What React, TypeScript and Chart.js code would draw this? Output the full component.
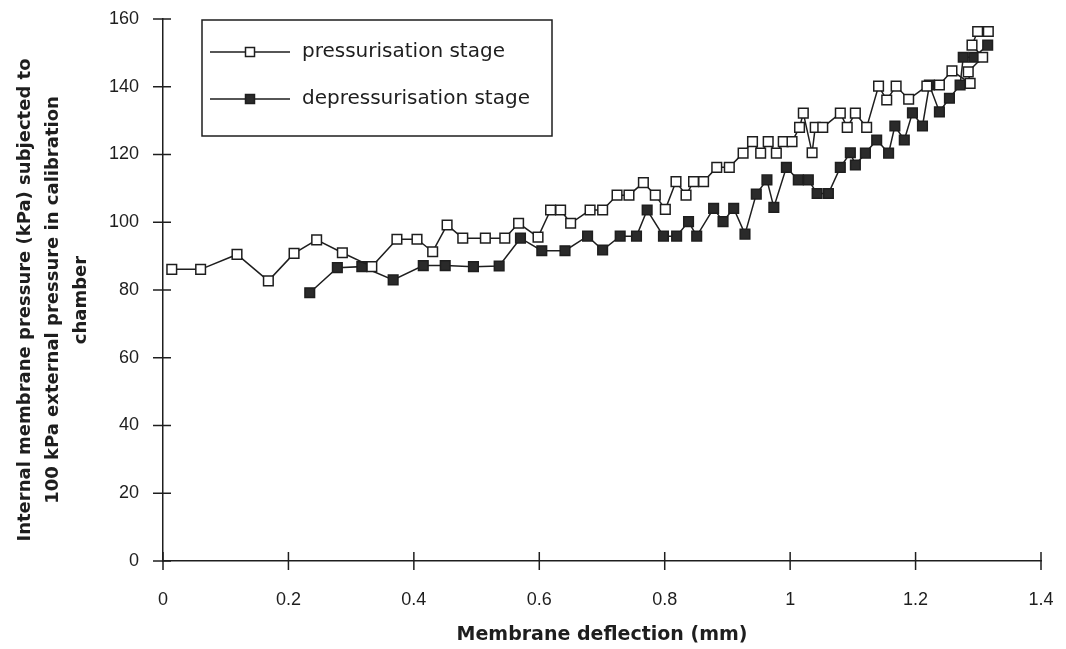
import React, { useEffect, useRef } from "react";
import { Chart, registerables } from "chart.js";

Chart.register(...registerables);

// Pressurisation stage (open squares)
const pressX = [0.014, 0.060, 0.118, 0.168, 0.209, 0.245, 0.286, 0.333, 0.373, 0.405, 0.430, 0.453, 0.478, 0.514, 0.545, 0.567, 0.598, 0.618, 0.634, 0.650, 0.681, 0.701, 0.724, 0.743, 0.766, 0.785, 0.801, 0.818, 0.834, 0.846, 0.862, 0.883, 0.903, 0.925, 0.940, 0.953, 0.965, 0.978, 0.989, 1.003, 1.015, 1.021, 1.035, 1.040, 1.052, 1.080, 1.091, 1.104, 1.122, 1.141, 1.154, 1.169, 1.189, 1.218, 1.238, 1.258, 1.287, 1.284, 1.307, 1.290, 1.299, 1.316];
const pressY = [86.1, 86.1, 90.5, 82.7, 90.8, 94.8, 91.0, 86.9, 95.0, 95.0, 91.3, 99.2, 95.3, 95.3, 95.3, 99.7, 95.6, 103.6, 103.6, 99.7, 103.6, 103.6, 108.0, 108.0, 111.7, 108.0, 103.8, 112.0, 108.0, 112.0, 112.0, 116.2, 116.2, 120.4, 123.8, 120.4, 123.8, 120.4, 123.8, 123.8, 128.0, 132.2, 120.5, 128.0, 128.0, 132.2, 128.0, 132.2, 128.0, 140.2, 136.1, 140.2, 136.3, 140.2, 140.5, 144.7, 141.0, 144.4, 148.7, 152.3, 156.3, 156.3];

// Depressurisation stage (filled squares)
const depressX = [0.234, 0.278, 0.317, 0.367, 0.415, 0.450, 0.495, 0.536, 0.570, 0.604, 0.641, 0.677, 0.701, 0.729, 0.755, 0.772, 0.798, 0.819, 0.838, 0.851, 0.878, 0.893, 0.910, 0.928, 0.946, 0.963, 0.974, 0.994, 1.013, 1.029, 1.043, 1.061, 1.080, 1.096, 1.104, 1.120, 1.138, 1.157, 1.167, 1.182, 1.195, 1.211, 1.222, 1.238, 1.254, 1.271, 1.276, 1.293, 1.315];
const depressY = [79.2, 86.6, 86.9, 83.0, 87.2, 87.2, 86.9, 87.1, 95.3, 91.6, 91.6, 95.9, 91.8, 95.9, 95.9, 103.6, 95.9, 95.9, 100.2, 95.9, 104.1, 100.2, 104.1, 96.5, 108.3, 112.5, 104.4, 116.2, 112.5, 112.5, 108.5, 108.5, 116.2, 120.5, 116.9, 120.4, 124.3, 120.4, 128.4, 124.3, 132.3, 128.4, 140.5, 132.6, 136.6, 140.5, 148.7, 148.7, 152.3];

const seriesNames = ["pressurisation stage", "depressurisation stage"];
const xTitle = "Membrane deflection (mm)";
const yTitle = [
  "Internal membrane pressure (kPa) subjected to",
  "100 kPa external pressure in calibration",
  "chamber",
];

const INK = "#1e1e1e";
const FONT = "'DejaVu Sans', sans-serif";
const TICKFONT = "'Liberation Sans', sans-serif";

const decorPlugin = {
  id: "decor",
  afterDraw(chart: any) {
    const { ctx, chartArea, scales } = chart;
    const xs = scales.x;
    const ys = scales.y;
    ctx.save();
    ctx.strokeStyle = INK;
    ctx.lineWidth = 1.5;
    // crossing tick marks
    xs.ticks.forEach((t: any) => {
      const px = xs.getPixelForValue(t.value);
      ctx.beginPath();
      ctx.moveTo(px, chartArea.bottom - 9);
      ctx.lineTo(px, chartArea.bottom + 9);
      ctx.stroke();
    });
    ys.ticks.forEach((t: any) => {
      const py = ys.getPixelForValue(t.value);
      ctx.beginPath();
      ctx.moveTo(chartArea.left - 10, py);
      ctx.lineTo(chartArea.left + 8, py);
      ctx.stroke();
    });
    // y axis title (three rotated lines)
    ctx.save();
    ctx.translate(25, (chartArea.top + chartArea.bottom) / 2 + 10);
    ctx.rotate(-Math.PI / 2);
    ctx.fillStyle = INK;
    ctx.font = `bold 18px ${FONT}`;
    ctx.textAlign = "center";
    ctx.textBaseline = "middle";
    yTitle.forEach((line, i) => ctx.fillText(line, 0, i * 28));
    ctx.restore();
    // legend box
    const bx = chartArea.left + 39;
    const by = chartArea.top + 1;
    const bw = 350;
    const bh = 116;
    ctx.fillStyle = "#fff";
    ctx.fillRect(bx, by, bw, bh);
    ctx.strokeRect(bx, by, bw, bh);
    chart.data.datasets.forEach((ds: any, i: number) => {
      const ly = by + 32 + i * 47;
      ctx.beginPath();
      ctx.lineWidth = 1.5;
      ctx.strokeStyle = INK;
      ctx.moveTo(bx + 8, ly);
      ctx.lineTo(bx + 88, ly);
      ctx.stroke();
      const s = 9;
      ctx.fillStyle = ds.pointBackgroundColor;
      ctx.fillRect(bx + 48 - s / 2, ly - s / 2, s, s);
      ctx.strokeRect(bx + 48 - s / 2, ly - s / 2, s, s);
      ctx.fillStyle = INK;
      ctx.font = `20px ${FONT}`;
      ctx.textBaseline = "middle";
      ctx.textAlign = "left";
      ctx.fillText(ds.label, bx + 100, ly);
    });
    ctx.restore();
  },
};

const zeroPad = (s: any) => {
  s.paddingTop = 0;
  s.paddingBottom = 0;
  s.paddingLeft = 0;
  s.paddingRight = 0;
};

export default function App() {
  const ref = useRef<HTMLCanvasElement>(null);
  useEffect(() => {
    document.body.style.margin = "0";
    const canvas = ref.current;
    if (!canvas) return;
    const pts = (xs: number[], ys: number[]) => xs.map((x, i) => ({ x, y: ys[i] }));
    const chart = new Chart(canvas, {
      type: "scatter",
      data: {
        datasets: [
          {
            label: seriesNames[0],
            data: pts(pressX, pressY),
            showLine: true,
            borderColor: INK,
            borderWidth: 1.5,
            pointStyle: "rect",
            pointRadius: 6.8,
            pointBorderWidth: 1.5,
            pointBorderColor: INK,
            pointBackgroundColor: "#ffffff",
            backgroundColor: "#ffffff",
          },
          {
            label: seriesNames[1],
            data: pts(depressX, depressY),
            showLine: true,
            borderColor: INK,
            borderWidth: 1.5,
            pointStyle: "rect",
            pointRadius: 6.8,
            pointBorderWidth: 1.5,
            pointBorderColor: INK,
            pointBackgroundColor: "#2a2a2a",
            backgroundColor: "#2a2a2a",
          },
        ],
      },
      options: {
        animation: false,
        responsive: false,
        layout: { autoPadding: false, padding: { top: 19, right: 25, left: 0, bottom: 0 } },
        plugins: {
          legend: { display: false },
          tooltip: { enabled: false },
        },
        scales: {
          x: {
            type: "linear",
            min: 0,
            max: 1.4,
            grid: { display: false, drawTicks: false },
            border: { display: true, color: INK, width: 1.5 },
            ticks: {
              stepSize: 0.2,
              padding: 28,
              color: INK,
              font: { family: TICKFONT, size: 18 },
              callback: (v: any) => String(Number(Number(v).toFixed(1))),
            },
            title: {
              display: true,
              text: xTitle,
              color: INK,
              font: { family: FONT, size: 19, weight: "bold" },
              padding: { top: 2, bottom: 3 },
            },
            afterFit: (s: any) => {
              s.height = 88;
              zeroPad(s);
            },
          },
          y: {
            type: "linear",
            min: 0,
            max: 160,
            grid: { display: false, drawTicks: false },
            border: { display: true, color: INK, width: 1.5 },
            ticks: {
              stepSize: 20,
              padding: 24,
              color: INK,
              font: { family: TICKFONT, size: 18 },
            },
            title: { display: false },
            afterFit: (s: any) => {
              s.width = 163;
              zeroPad(s);
            },
          },
        },
      },
      plugins: [decorPlugin],
    });
    return () => chart.destroy();
  }, []);
  return (
    <div style={{ position: "relative", width: 1066, height: 649, background: "#fff" }}>
      <canvas ref={ref} width={1066} height={649} />
    </div>
  );
}
